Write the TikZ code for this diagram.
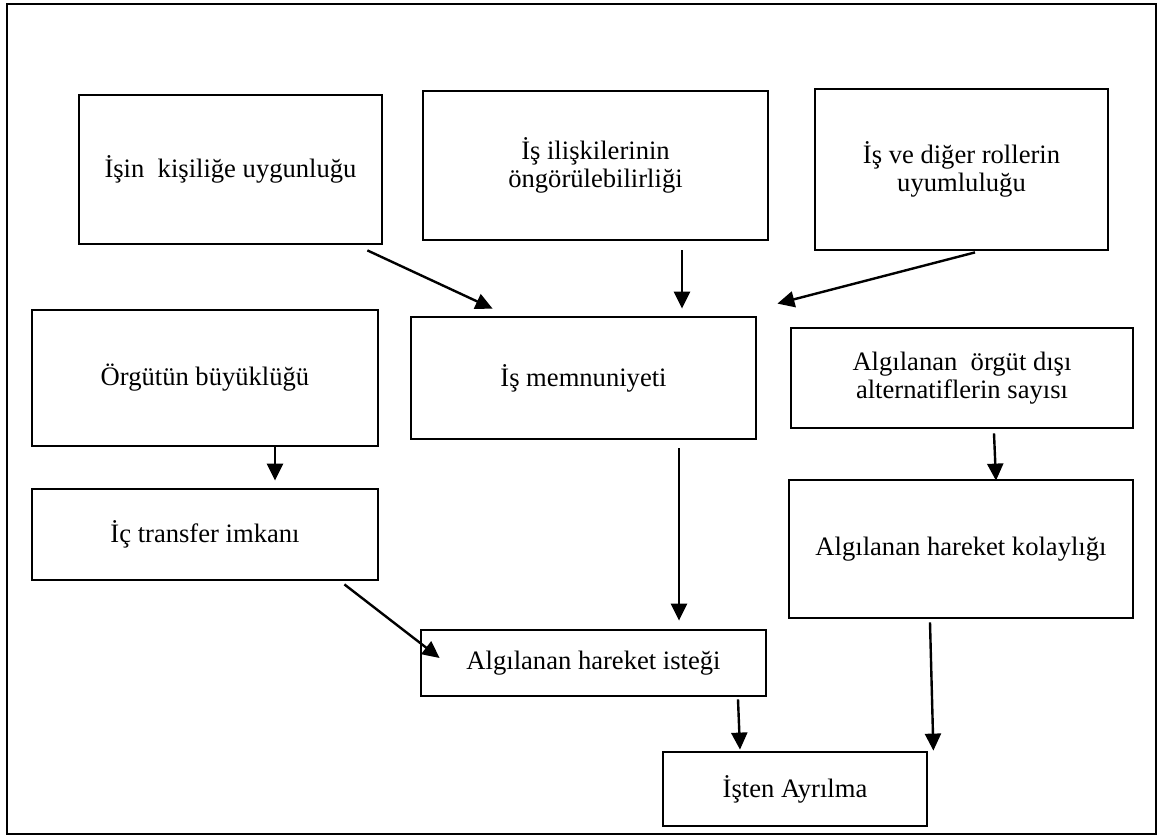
\documentclass[tikz,border=0pt]{standalone}
\usepackage{fontspec}
\setmainfont{Liberation Serif}
\usetikzlibrary{arrows.meta}
\tikzset{
box/.style={draw, line width=2.8pt, align=center, inner sep=0pt, font=\fontsize{26.6}{27.5}\selectfont}, % every box of the model
arrow/.style={-{Triangle[length=17pt,width=16pt]}, line width=2.4pt}, % bold arrows with filled heads
}

\begin{document}
\begin{tikzpicture}[x=1pt, y=-1pt]
    \useasboundingbox (0,0) rectangle (1163,836);
    \draw[line width=1.8pt] (7,4) rectangle (1156,834);

    \node[box, minimum width=303pt, minimum height=149pt] (isin) at (230.5,169.5) {İşin\ \ kişiliğe uygunluğu};
    \node[box, minimum width=345pt, minimum height=149pt] (iliski) at (595.5,165.5) {İş ilişkilerinin\\öngörülebilirliği};
    \node[box, minimum width=293pt, minimum height=161pt] (roller) at (961.5,169.5) {İş ve diğer rollerin\\uyumluluğu};
    \node[box, minimum width=346pt, minimum height=136pt] (orgut) at (205,378) {Örgütün büyüklüğü};
    \node[box, minimum width=345pt, minimum height=122pt] (memnun) at (583.5,378) {İş memnuniyeti};
    \node[box, minimum width=342pt, minimum height=100pt] (disi) at (962,378) {Algılanan\ \ örgüt dışı\\alternatiflerin sayısı};
    \node[box, minimum width=346pt, minimum height=91pt] (ictr) at (205,534.5) {İç transfer imkanı};
    \node[box, minimum width=344pt, minimum height=138pt] (kolay) at (961,549) {Algılanan hareket kolaylığı};
    \node[box, minimum width=345pt, minimum height=66pt] (istek) at (593.5,663) {Algılanan hareket isteği};
    \node[box, minimum width=264pt, minimum height=74pt] (ayril) at (795,789) {İşten Ayrılma};

    \draw[arrow] ([shift={(-16,5)}]isin.south east) -- ([shift={(83,-7)}]memnun.north west);
    \draw[arrow] ([shift={(86.5,9)}]iliski.south) -- ([shift={(98.5,-7)}]memnun.north);
    \draw[arrow] ([shift={(13.5,1)}]roller.south) -- ([shift={(20,-12)}]memnun.north east);
    \draw[arrow] ([shift={(70,0)}]orgut.south) -- ([shift={(70,-7)}]ictr.north);
    \draw[arrow] ([shift={(-35,3)}]ictr.south east) -- ([shift={(20,-5)}]istek.west);
    \draw[arrow] ([shift={(95.5,8)}]memnun.south) -- ([shift={(85.5,-8)}]istek.north);
    \draw[arrow] ([shift={(32,4)}]disi.south) -- ([shift={(35,2)}]kolay.north);
    \draw[arrow] ([shift={(144.5,2)}]istek.south) -- ([shift={(-55,-1)}]ayril.north);
    \draw[arrow] ([shift={(-31,3)}]kolay.south) -- ([shift={(5,0)}]ayril.north east);
\end{tikzpicture}
\end{document}
